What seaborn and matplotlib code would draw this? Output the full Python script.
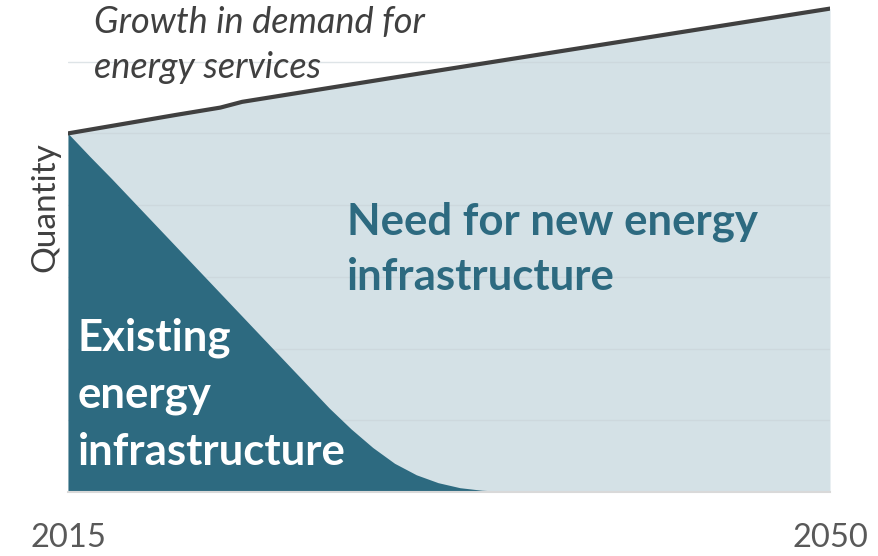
import numpy as np
import pandas as pd
import matplotlib
matplotlib.use("Agg")
import matplotlib.pyplot as plt
import seaborn as sns

# Total demand for energy services (arbitrary quantity units)
demand_years = [2015, 2020, 2022, 2023, 2030, 2035, 2040, 2045, 2050]
demand_values = [5.00, 5.26, 5.36, 5.44, 5.78, 6.02, 6.26, 6.50, 6.74]

# Remaining capacity of the existing energy infrastructure
existing_years = list(range(2015, 2051))
existing_values = [5.00, 4.68, 4.37, 4.05, 3.73, 3.41, 3.09, 2.77, 2.45, 2.13,
                   1.81, 1.49, 1.17, 0.88, 0.62, 0.40, 0.24, 0.13, 0.06, 0.025,
                   0.008, 0.0, 0.0, 0.0, 0.0, 0.0, 0.0, 0.0, 0.0, 0.0,
                   0.0, 0.0, 0.0, 0.0, 0.0, 0.0]

x_tick_labels = ["2015", "2050"]
grid_levels = [1, 2, 3, 4, 5, 6]

demand = pd.DataFrame({"year": demand_years, "quantity": demand_values})
existing = pd.DataFrame({"year": existing_years, "quantity": existing_values})

sns.set_theme(style="white")
plt.rcParams["font.family"] = ["Lato", "DejaVu Sans"]

LIGHT = "#d4e1e6"
DARK = "#2d6a80"
LINE = "#404040"

fig = plt.figure(figsize=(8.79, 5.56), dpi=100)
ax = fig.add_axes([68 / 879, 64 / 556, 762 / 879, 492 / 556])

# Light area: total demand
ax.fill_between(demand["year"], 0, demand["quantity"], color=LIGHT, lw=0, zorder=1)
for g in grid_levels:
    ax.axhline(g, color="#c9d3d8", lw=1.0, alpha=0.6, zorder=1.5)
# Dark area: existing infrastructure
ax.fill_between(existing["year"], 0, existing["quantity"], color=DARK, lw=0, zorder=2)
# Demand growth line
sns.lineplot(data=demand, x="year", y="quantity", color=LINE, lw=3.0, ax=ax, zorder=4)

ax.set_xlim(2015, 2050)
ax.set_ylim(0, 6.86)
ax.set_xticks([2015, 2050])
ax.set_xticklabels(x_tick_labels, fontsize=23.5, color="#595959")
ax.tick_params(axis="x", length=0, pad=22)
ax.set_yticks([])
ax.set_xlabel("")
ax.set_ylabel("Quantity", fontsize=24, color="#404040")
ax.yaxis.set_label_coords(-0.01, 0.579)

for side in ["top", "right", "left"]:
    ax.spines[side].set_visible(False)
ax.spines["bottom"].set_color("#d9d9d9")
ax.spines["bottom"].set_linewidth(1.5)
ax.spines["bottom"].set_zorder(5)

ax.text(2016.2, 5.77, "Growth in demand for\nenergy services", fontsize=26,
        style="italic", color="#404040", va="baseline", linespacing=1.45)
ax.text(2027.8, 2.82, "Need for new energy\ninfrastructure", fontsize=31.5,
        weight="bold", color=DARK, va="baseline", linespacing=1.45)
ax.text(2015.45, 0.38, "Existing\nenergy\ninfrastructure", fontsize=31.5,
        weight="bold", color="white", va="baseline", linespacing=1.5, zorder=6)

fig.savefig("out.png", dpi=100)
